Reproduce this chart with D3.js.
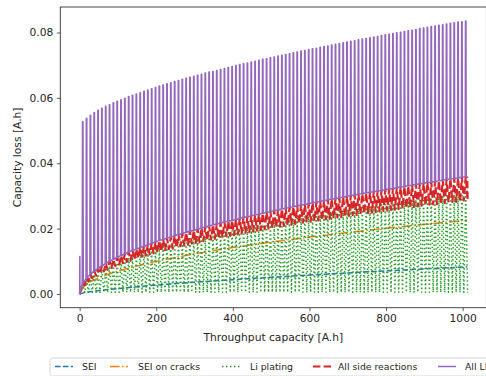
<!DOCTYPE html>
<html>
<head>
<meta charset="utf-8">
<script src="https://d3js.org/d3.v7.min.js"></script>
<style>
body { margin: 0; background: #fff; }
text { font-family: "DejaVu Sans", sans-serif; fill: #262626; }
</style>
</head>
<body>
<script>
// throughput (A.h) at which each cycle's spike occurs
var cycleThroughput = [8,18,28,38,48,58,68,78,88,98,108,118,128,138,148,158,168,178,188,198,
  208,218,228,238,248,258,268,278,288,298,308,318,328,338,348,358,368,378,388,398,
  408,418,428,438,448,458,468,478,488,498,508,518,528,538,548,558,568,578,588,598,
  608,618,628,638,648,658,668,678,688,698,708,718,728,738,748,758,768,778,788,798,
  808,818,828,838,848,858,868,878,888,898,908,918,928,938,948,958,968,978,988,998,1008];
var endThroughput = 1012;

// all values below in mA.h (converted on draw)
var lliPeak = [52.7,53.8,54.7,55.5,56.2,56.8,57.4,57.9,58.5,59.0,59.4,59.9,60.4,60.8,61.2,61.6,62.0,62.4,62.8,63.2,
  63.6,63.9,64.3,64.6,65.0,65.3,65.7,66.0,66.3,66.6,66.9,67.2,67.6,67.9,68.1,68.4,68.7,69.0,69.3,69.6,
  69.9,70.2,70.4,70.7,71.0,71.2,71.5,71.8,72.0,72.3,72.5,72.8,73.0,73.3,73.5,73.8,74.0,74.3,74.5,74.8,
  75.0,75.2,75.5,75.7,75.9,76.2,76.4,76.6,76.9,77.1,77.3,77.5,77.8,78.0,78.2,78.4,78.6,78.8,79.1,79.3,
  79.5,79.7,79.9,80.1,80.3,80.5,80.7,80.9,81.2,81.4,81.6,81.8,82.0,82.2,82.4,82.6,82.8,83.0,83.2,83.3,83.5];
var lliFirst = 11.5;

var sideTop = [3.2,4.8,6.0,7.0,7.8,8.6,9.3,10.0,10.6,11.2,11.7,12.3,12.8,13.3,13.7,14.2,14.6,15.1,15.5,15.9,
  16.3,16.7,17.1,17.4,17.8,18.2,18.5,18.8,19.2,19.5,19.8,20.2,20.5,20.8,21.1,21.4,21.7,22.0,22.3,22.5,
  22.8,23.1,23.4,23.6,23.9,24.2,24.4,24.7,25.0,25.2,25.5,25.7,26.0,26.2,26.5,26.7,26.9,27.2,27.4,27.6,
  27.9,28.1,28.3,28.5,28.8,29.0,29.2,29.4,29.6,29.9,30.1,30.3,30.5,30.7,30.9,31.1,31.3,31.5,31.7,31.9,
  32.1,32.3,32.5,32.7,32.9,33.1,33.3,33.5,33.7,33.9,34.1,34.2,34.4,34.6,34.8,35.0,35.2,35.3,35.5,35.7,35.9];

var sideBottom = [2.6,3.8,4.8,5.6,6.2,6.9,7.4,8.0,8.5,9.0,9.4,9.8,10.2,10.6,11.0,11.4,11.7,12.1,12.4,12.7,
  13.0,13.4,13.7,13.9,14.2,14.6,14.8,15.0,15.4,15.6,15.8,16.2,16.4,16.6,16.9,17.1,17.4,17.6,17.8,18.0,
  18.2,18.5,18.7,18.9,19.1,19.4,19.5,19.8,20.0,20.2,20.4,20.6,20.8,21.0,21.2,21.4,21.5,21.8,21.9,22.1,
  22.3,22.5,22.6,22.8,23.0,23.2,23.4,23.5,23.7,23.9,24.1,24.2,24.4,24.6,24.7,24.9,25.0,25.2,25.4,25.5,
  25.7,25.8,26.0,26.2,26.3,26.5,26.6,26.8,27.0,27.1,27.3,27.4,27.5,27.7,27.8,28.0,28.2,28.2,28.4,28.6,28.7];

var platingTop = [2.8,4.1,5.2,6.0,6.7,7.4,8.0,8.6,9.1,9.6,10.1,10.6,11.0,11.4,11.8,12.2,12.6,13.0,13.3,13.7,
  14.0,14.4,14.7,15.0,15.3,15.7,15.9,16.2,16.5,16.8,17.0,17.4,17.6,17.9,18.1,18.4,18.7,18.9,19.2,19.4,
  19.6,19.9,20.1,20.3,20.6,20.8,21.0,21.2,21.5,21.7,21.9,22.1,22.4,22.5,22.8,23.0,23.1,23.4,23.6,23.7,
  24.0,24.2,24.3,24.5,24.8,24.9,25.1,25.3,25.5,25.7,25.9,26.1,26.2,26.4,26.6,26.7,26.9,27.1,27.3,27.4,
  27.6,27.8,28.0,28.1,28.3,28.5,28.6,28.8,29.0,29.2,29.3,29.4,29.6,29.8,29.9,30.1,30.3,30.4,30.5,30.7,30.9];
var platingFloor = 0.5;

var seiT = [0,10,25,50,100,200,300,400,500,600,700,800,900,1012];
var seiV = [0,0.34,0.65,1.04,1.68,2.72,3.59,4.38,5.11,5.79,6.44,7.07,7.66,8.31];
var crackT = [0,10,25,50,100,200,300,400,500,600,700,800,900,1012];
var crackV = [0,2.2,3.6,5.0,7.1,10.0,12.3,14.2,15.9,17.4,18.8,20.1,21.3,22.6];

var xTicks = [0,200,400,600,800,1000];
var yTicks = [0,0.02,0.04,0.06,0.08];
var legendNames = ["SEI","SEI on cracks","Li plating","All side reactions","All LLI"];
var colors = ["#1f77b4","#ff7f0e","#2ca02c","#d62728","#9467bd"];
var dashes = ["5.5,2.4","9.6,2.4,1.5,2.4","1.5,2.5","7.4,3.2",null];
var widths = [1.5,1.5,1.5,2.2,1.5];

var W = 486, H = 376;
var padL = 60.3, padR = 486.4, padT = 7, padB = 307.7;

var x = d3.scaleLinear().domain([-50.6, 1062]).range([padL, padR]);
var y = d3.scaleLinear().domain([-0.0042, 0.0878]).range([padB, padT]);

var svg = d3.select("body").append("svg")
  .attr("width", W).attr("height", H);
svg.append("rect").attr("width", W).attr("height", H).attr("fill", "#fff");

svg.append("clipPath").attr("id", "clip")
  .append("rect").attr("x", padL).attr("y", padT)
  .attr("width", padR - padL).attr("height", padB - padT);

// build series
var seiPts = seiT.map(function(t, i){ return [t, seiV[i]]; });
var crackPts = crackT.map(function(t, i){ return [t, crackV[i]]; });

var platingPts = [[0, 0]];
var sidePts = [[0, 0]];
var lliPts = [[0, 0], [0.4, lliFirst], [0.8, 0]];
cycleThroughput.forEach(function(t, k){
  platingPts.push([t, platingTop[k]]);
  platingPts.push([t + 5, platingFloor]);
  sidePts.push([t, sideTop[k]]);
  sidePts.push([t + 5, sideBottom[k]]);
  // LLI jumps up, holds briefly at the peak, then drops back
  lliPts.push([t - 1.4, sideTop[k]]);
  lliPts.push([t - 0.6, lliPeak[k]]);
  lliPts.push([t + 0.6, lliPeak[k]]);
  lliPts.push([t + 1.4, sideTop[k]]);
});
var last = cycleThroughput.length - 1;
platingPts.push([endThroughput, platingFloor]);
sidePts.push([endThroughput, sideTop[last]]);
lliPts.push([endThroughput, sideTop[last]]);

var series = [seiPts, crackPts, platingPts, sidePts, lliPts];

var line = d3.line()
  .x(function(d){ return x(d[0]); })
  .y(function(d){ return y(d[1] / 1000); });

var plot = svg.append("g").attr("clip-path", "url(#clip)");
series.forEach(function(pts, i){
  plot.append("path")
    .attr("d", line(pts))
    .attr("fill", "none")
    .attr("stroke", colors[i])
    .attr("stroke-width", widths[i])
    .attr("stroke-dasharray", dashes[i])
    .attr("stroke-linejoin", "round");
});

// axes
var xAxis = svg.append("g").attr("transform", "translate(0," + padB + ")")
  .call(d3.axisBottom(x).tickValues(xTicks).tickSize(3.5).tickPadding(3.5).tickFormat(d3.format("d")));
var yAxis = svg.append("g").attr("transform", "translate(" + padL + ",0)")
  .call(d3.axisLeft(y).tickValues(yTicks).tickSize(3.5).tickPadding(3.5).tickFormat(d3.format(".2f")));
[xAxis, yAxis].forEach(function(a){
  a.select(".domain").remove();
  a.selectAll("line").attr("stroke", "#333").attr("stroke-width", 0.8);
  a.selectAll("text").attr("font-size", 10.7).attr("font-family", "DejaVu Sans").attr("fill", "#262626");
});

// spines
svg.append("rect").attr("x", padL).attr("y", padT)
  .attr("width", padR - padL).attr("height", padB - padT)
  .attr("fill", "none").attr("stroke", "#333").attr("stroke-width", 0.9);

svg.append("text").attr("x", (padL + padR) / 2).attr("y", 341)
  .attr("text-anchor", "middle").attr("font-size", 10.7)
  .text("Throughput capacity [A.h]");
svg.append("text")
  .attr("transform", "translate(21," + ((padT + padB) / 2) + ") rotate(-90)")
  .attr("text-anchor", "middle").attr("font-size", 10.7)
  .text("Capacity loss [A.h]");

// legend
var lg = svg.append("g");
lg.append("rect").attr("x", 50).attr("y", 358).attr("width", 470).attr("height", 18)
  .attr("rx", 2.5).attr("fill", "#fff").attr("fill-opacity", 0.8)
  .attr("stroke", "#ccc").attr("stroke-width", 0.8);
var handleX = [55, 110, 222, 313, 438];
var textX = [82, 138, 250, 338, 465];
legendNames.forEach(function(name, i){
  lg.append("line").attr("x1", handleX[i]).attr("x2", handleX[i] + 18)
    .attr("y1", 366.5).attr("y2", 366.5)
    .attr("stroke", colors[i]).attr("stroke-width", widths[i])
    .attr("stroke-dasharray", dashes[i]);
  lg.append("text").attr("x", textX[i]).attr("y", 370)
    .attr("font-size", 9.3).text(name);
});
</script>
</body>
</html>
